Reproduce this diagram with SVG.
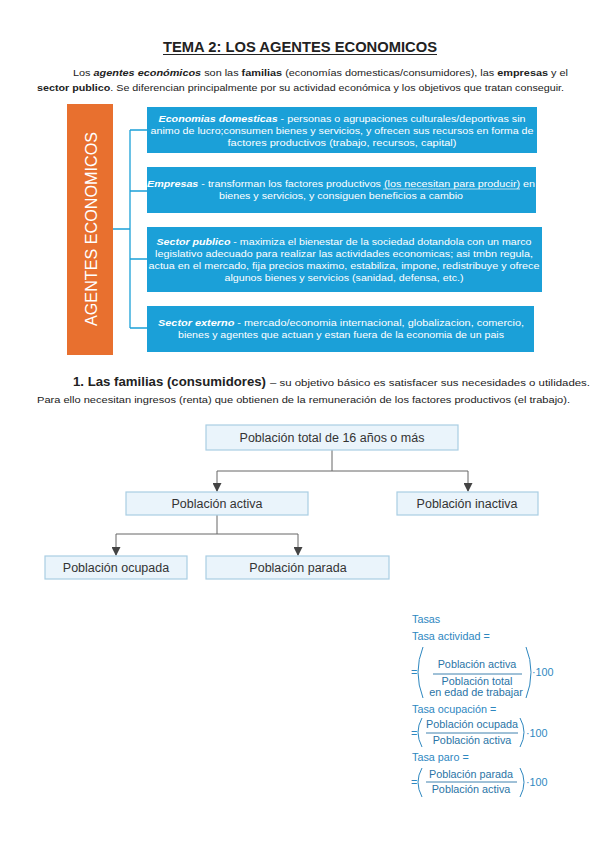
<svg xmlns="http://www.w3.org/2000/svg" width="599" height="848" viewBox="0 0 599 848">
<style>
.t{font-family:"Liberation Sans",Arial,sans-serif;fill:#222}
.w{font-family:"Liberation Sans",Arial,sans-serif;fill:#fff;font-size:9.5px}
.b{font-weight:bold}
.bi{font-weight:bold;font-style:italic}
.blue{fill:#1BA0D8}
.conn{stroke:#1BA0D8;stroke-width:1.3;fill:none}
.tn{fill:#EAF4FB;stroke:#A9CDE3;stroke-width:1.2}
.tt{font-family:"Liberation Sans",Arial,sans-serif;fill:#333;font-size:12.5px}
.tl{stroke:#666;stroke-width:1;fill:none}
.f{font-family:"Liberation Sans",Arial,sans-serif;fill:#2E87BF;font-size:10.8px}
.fd{font-family:"Liberation Sans",Arial,sans-serif;fill:#2A74A6;font-size:10.8px}
.p{stroke:#2E87BF;stroke-width:1;fill:none}
</style>
<defs>
<marker id="ah" markerWidth="9" markerHeight="9" refX="8" refY="4.5" orient="auto" markerUnits="userSpaceOnUse" viewBox="0 0 9 9">
<path d="M0,0 L9,4.5 L0,9 Z" fill="#444"/>
</marker>
</defs>
<rect width="599" height="848" fill="#fff"/>

<text class="t b" x="300" y="52" font-size="15" text-anchor="middle" textLength="274" lengthAdjust="spacingAndGlyphs">TEMA 2: LOS AGENTES ECONOMICOS</text>
<line x1="163" y1="54.5" x2="437" y2="54.5" stroke="#222" stroke-width="1"/>

<text class="t" x="73" y="76" font-size="9.5" textLength="495" lengthAdjust="spacingAndGlyphs">Los <tspan class="bi">agentes económicos</tspan> son las <tspan class="b">familias</tspan> (economías domesticas/consumidores), las <tspan class="b">empresas</tspan> y el</text>
<text class="t" x="37" y="91" font-size="9.5" textLength="527" lengthAdjust="spacingAndGlyphs"><tspan class="b">sector publico</tspan>. Se diferencian principalmente por su actividad económica y los objetivos que tratan conseguir.</text>

<g id="agentes">
<rect x="67" y="104" width="46" height="251" fill="#E8702F"/>
<text transform="translate(97,229) rotate(-90)" text-anchor="middle" font-family="Liberation Sans,Arial,sans-serif" font-size="17" fill="#fff" textLength="194" lengthAdjust="spacingAndGlyphs">AGENTES ECONOMICOS</text>
</g>

<g id="connectors-agentes">
<path class="conn" d="M113,229 H130 M130,130 V328 M130,130 H147 M130,191 H147 M130,259 H147 M130,328 H147"/>
</g>

<g id="economias">
<rect class="blue" x="147" y="107" width="390" height="46"/>
<text class="w" x="342" y="122" text-anchor="middle" textLength="367" lengthAdjust="spacingAndGlyphs"><tspan class="bi">Economias domesticas</tspan> - personas o agrupaciones culturales/deportivas sin</text>
<text class="w" x="342" y="134" text-anchor="middle" textLength="383" lengthAdjust="spacingAndGlyphs">animo de lucro;consumen bienes y servicios, y ofrecen sus recursos en forma de</text>
<text class="w" x="342" y="146" text-anchor="middle" textLength="229" lengthAdjust="spacingAndGlyphs">factores productivos (trabajo, recursos, capital)</text>
</g>

<g id="empresas">
<rect class="blue" x="147" y="167" width="389" height="46"/>
<text class="w" x="341" y="187" text-anchor="middle" textLength="388" lengthAdjust="spacingAndGlyphs"><tspan class="bi">Empresas</tspan> - transforman los factores productivos (los necesitan para producir) en</text>
<line x1="383" y1="189" x2="520" y2="189" stroke="#fff" stroke-width="0.7"/>
<text class="w" x="341" y="199" text-anchor="middle" textLength="244" lengthAdjust="spacingAndGlyphs">bienes y servicios, y consiguen beneficios a cambio</text>
</g>

<g id="sector-publico">
<rect class="blue" x="147" y="227" width="395" height="65"/>
<text class="w" x="344" y="245" text-anchor="middle" textLength="375" lengthAdjust="spacingAndGlyphs"><tspan class="bi">Sector publico</tspan> - maximiza el bienestar de la sociedad dotandola con un marco</text>
<text class="w" x="344" y="257" text-anchor="middle" textLength="378" lengthAdjust="spacingAndGlyphs">legislativo adecuado para realizar las actividades economicas; asi tmbn regula,</text>
<text class="w" x="344" y="269" text-anchor="middle" textLength="391" lengthAdjust="spacingAndGlyphs">actua en el mercado, fija precios maximo, estabiliza, impone, redistribuye y ofrece</text>
<text class="w" x="344" y="281" text-anchor="middle" textLength="239" lengthAdjust="spacingAndGlyphs">algunos bienes y servicios (sanidad, defensa, etc.)</text>
</g>

<g id="sector-externo">
<rect class="blue" x="147" y="306" width="387" height="46"/>
<text class="w" x="341" y="326" text-anchor="middle" textLength="366" lengthAdjust="spacingAndGlyphs"><tspan class="bi">Sector externo</tspan> - mercado/economia internacional, globalizacion, comercio,</text>
<text class="w" x="341" y="338" text-anchor="middle" textLength="326" lengthAdjust="spacingAndGlyphs">bienes y agentes que actuan y estan fuera de la economia de un pais</text>
</g>

<text class="t b" x="73" y="386" font-size="13" textLength="193" lengthAdjust="spacingAndGlyphs">1. Las familias (consumidores)</text>
<text class="t" x="270" y="386" font-size="9" textLength="320" lengthAdjust="spacingAndGlyphs">– su objetivo básico es satisfacer sus necesidades o utilidades.</text>
<text class="t" x="37" y="403" font-size="9.5" textLength="533" lengthAdjust="spacingAndGlyphs">Para ello necesitan ingresos (renta) que obtienen de la remuneración de los factores productivos (el trabajo).</text>

<g id="tree-connectors">
<path class="tl" d="M332,450 V471 M217,471 H468"/>
<path class="tl" d="M217,471 V491" marker-end="url(#ah)"/>
<path class="tl" d="M468,471 V491" marker-end="url(#ah)"/>
<path class="tl" d="M217,515 V534 M116,534 H298"/>
<path class="tl" d="M116,534 V555" marker-end="url(#ah)"/>
<path class="tl" d="M298,534 V555" marker-end="url(#ah)"/>
</g>

<g id="poblacion-total">
<rect class="tn" x="206" y="425" width="252" height="25"/>
<text class="tt" x="332" y="442" text-anchor="middle">Población total de 16 años o más</text>
</g>
<g id="poblacion-activa">
<rect class="tn" x="126" y="492" width="182" height="23"/>
<text class="tt" x="217" y="508" text-anchor="middle">Población activa</text>
</g>
<g id="poblacion-inactiva">
<rect class="tn" x="397" y="492" width="141" height="23"/>
<text class="tt" x="467" y="508" text-anchor="middle">Población inactiva</text>
</g>
<g id="poblacion-ocupada">
<rect class="tn" x="45" y="556" width="142" height="23"/>
<text class="tt" x="116" y="572" text-anchor="middle">Población ocupada</text>
</g>
<g id="poblacion-parada">
<rect class="tn" x="206" y="556" width="183" height="23"/>
<text class="tt" x="298" y="572" text-anchor="middle">Población parada</text>
</g>

<g id="tasas">
<text class="f" x="412" y="623">Tasas</text>
<text class="f" x="412" y="640">Tasa actividad =</text>
<text class="f" x="411" y="676">=</text>
<path class="p" d="M423,647 Q413,672 423,698"/>
<text class="fd" x="477" y="668" text-anchor="middle">Población activa</text>
<line x1="433" y1="674" x2="522" y2="674" stroke="#2A74A6" stroke-width="0.9"/>
<text class="fd" x="477" y="685" text-anchor="middle">Población total</text>
<text class="fd" x="476" y="696" text-anchor="middle">en edad de trabajar</text>
<path class="p" d="M526,647 Q536,672 526,698"/>
<text class="f" x="532" y="676">·100</text>

<text class="f" x="412" y="713">Tasa ocupación =</text>
<text class="f" x="411" y="737">=</text>
<path class="p" d="M422,718 Q414,732 422,747"/>
<text class="fd" x="472" y="728" text-anchor="middle">Población ocupada</text>
<line x1="426" y1="733" x2="518" y2="733" stroke="#2A74A6" stroke-width="0.9"/>
<text class="fd" x="472" y="744" text-anchor="middle">Población activa</text>
<path class="p" d="M520,718 Q528,732 520,747"/>
<text class="f" x="526" y="737">·100</text>

<text class="f" x="412" y="761">Tasa paro =</text>
<text class="f" x="411" y="786">=</text>
<path class="p" d="M422,768 Q414,782 422,797"/>
<text class="fd" x="471" y="778" text-anchor="middle">Población parada</text>
<line x1="426" y1="782" x2="517" y2="782" stroke="#2A74A6" stroke-width="0.9"/>
<text class="fd" x="471" y="793" text-anchor="middle">Población activa</text>
<path class="p" d="M520,768 Q528,782 520,797"/>
<text class="f" x="526" y="786">·100</text>
</g>
</svg>
